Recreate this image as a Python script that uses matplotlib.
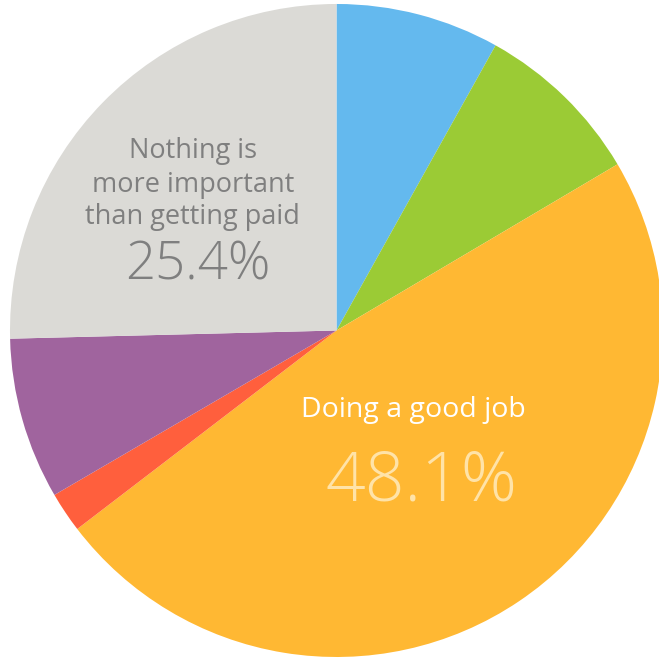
import matplotlib.pyplot as plt

# Share of answers per category, clockwise from the top
categories = ['Other A', 'Other B', 'Doing a good job', 'Other C', 'Other D',
              'Nothing is more important than getting paid']
shares = [8.1, 8.4, 48.1, 2.0, 8.0, 25.4]
colors = ['#64B9EE', '#9BCB35', '#FFB833', '#FF5F3D', '#A0649E', '#DBDAD6']

plt.rcParams['font.family'] = ['Open Sans', 'DejaVu Sans']

fig = plt.figure(figsize=(6.59, 6.60), dpi=100)
ax = fig.add_axes([0, 0, 1, 1])

ax.pie(shares, colors=colors, startangle=90, counterclock=False,
       radius=1.0, center=(0, 0), wedgeprops={'linewidth': 0})

ax.set_xlim(-1.0306, 0.9877)
ax.set_ylim(-1.0092, 1.0122)
ax.set_aspect('equal')
ax.axis('off')

# labels for the two big slices
gray = '#7F7F7F'
ax.text(-0.44, 0.549, 'Nothing is', ha='center', va='center', fontsize=19.5,
        color=gray, fontweight='medium')
ax.text(-0.44, 0.446, 'more important', ha='center', va='center', fontsize=19.5,
        color=gray, fontweight='medium')
ax.text(-0.44, 0.348, 'than getting paid', ha='center', va='center', fontsize=19.5,
        color=gray, fontweight='medium')
ax.text(-0.425, 0.197, f'{shares[5]}%', ha='center', va='center', fontsize=38,
        color=gray, fontweight='light')

ax.text(0.235, -0.245, 'Doing a good job', ha='center', va='center', fontsize=20.5,
        color='white', fontweight='medium')
ax.text(0.26, -0.467, f'{shares[2]}%', ha='center', va='center', fontsize=50,
        color='#FFE3A8', fontweight='light')

fig.savefig('out.png', dpi=100)
